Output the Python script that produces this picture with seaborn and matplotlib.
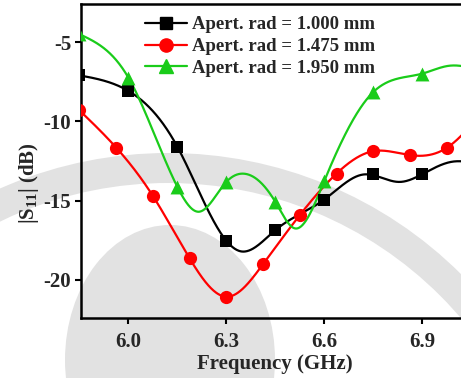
import numpy as np
import matplotlib
matplotlib.use("Agg")
import matplotlib.pyplot as plt
from matplotlib.lines import Line2D
from matplotlib.patches import Wedge, Ellipse
import seaborn as sns

# Reflection coefficient |S11| versus frequency for three aperture radii.
# Marked samples for each radius
freq_a = [5.85, 6.00, 6.15, 6.30, 6.45, 6.60, 6.75, 6.90]
s11_a = [-7.1, -8.08, -11.6, -17.53, -16.86, -14.93, -13.33, -13.33]

freq_b = [5.85, 5.9625, 6.075, 6.1875, 6.30, 6.4125, 6.525, 6.6375, 6.75, 6.8625, 6.975]
s11_b = [-9.3, -11.65, -14.7, -18.64, -21.06, -19.0, -15.91, -13.29, -11.88, -12.13, -11.67]

freq_c = [5.85, 6.00, 6.15, 6.30, 6.45, 6.60, 6.75, 6.90]
s11_c = [-4.5, -7.24, -14.13, -13.82, -15.08, -13.75, -8.15, -6.99]

# Full sweep used for the continuous traces
sweep_fa = [5.85, 6.00, 6.15, 6.30, 6.345, 6.45, 6.60, 6.72, 6.83, 6.90, 6.99, 7.10]
sweep_sa = [-7.1, -8.08, -11.6, -17.53, -18.2, -16.86, -14.93, -13.35, -13.82, -13.33, -12.55, -12.9]

sweep_fb = [5.85, 5.9625, 6.075, 6.1875, 6.30, 6.4125, 6.525, 6.6375, 6.75, 6.8625, 6.975, 7.0875]
sweep_sb = [-9.3, -11.65, -14.7, -18.64, -21.06, -19.0, -15.91, -13.29, -11.88, -12.13, -11.67, -9.3]

sweep_fc = [5.85, 6.00, 6.15, 6.216, 6.30, 6.354, 6.45, 6.51, 6.60, 6.75, 6.90, 6.98, 7.10]
sweep_sc = [-4.5, -7.24, -14.13, -15.7, -13.82, -13.3, -15.08, -16.75, -13.75, -8.15, -6.99, -6.5, -7.0]

labels = ["Apert. rad = 1.000 mm", "Apert. rad = 1.475 mm", "Apert. rad = 1.950 mm"]
colors = ["#000000", "#FF0000", "#1ACC1A"]
markers = ["s", "o", "^"]
msizes = [8.5, 9.5, 10]

xticks = [6.0, 6.3, 6.6, 6.9]
yticks = [-5, -10, -15, -20]


def natural_spline(x, y, n=800):
    """Natural cubic spline through the given points."""
    x = np.asarray(x, float)
    y = np.asarray(y, float)
    k = len(x)
    h = np.diff(x)
    A = np.zeros((k, k))
    r = np.zeros(k)
    A[0, 0] = 1.0
    A[-1, -1] = 1.0
    for i in range(1, k - 1):
        A[i, i - 1] = h[i - 1]
        A[i, i] = 2 * (h[i - 1] + h[i])
        A[i, i + 1] = h[i]
        r[i] = 6 * ((y[i + 1] - y[i]) / h[i] - (y[i] - y[i - 1]) / h[i - 1])
    M = np.linalg.solve(A, r)
    xs = np.linspace(x[0], x[-1], n)
    idx = np.clip(np.searchsorted(x, xs) - 1, 0, k - 2)
    x0, x1 = x[idx], x[idx + 1]
    y0, y1 = y[idx], y[idx + 1]
    m0, m1 = M[idx], M[idx + 1]
    hh = x1 - x0
    a = x1 - xs
    b = xs - x0
    ys = (m0 * a ** 3 + m1 * b ** 3) / (6 * hh) + (y0 / hh - m0 * hh / 6) * a + (y1 / hh - m1 * hh / 6) * b
    return xs, ys


sns.set_theme(style="white")
plt.rcParams["font.family"] = ["Liberation Serif", "DejaVu Serif"]
plt.rcParams["font.weight"] = "bold"
plt.rcParams["axes.unicode_minus"] = False
plt.rcParams["mathtext.fontset"] = "custom"
plt.rcParams["mathtext.rm"] = "Liberation Serif:bold"
plt.rcParams["mathtext.it"] = "Liberation Serif:italic:bold"
plt.rcParams["mathtext.bf"] = "Liberation Serif:bold"

W, H = 461, 378
fig = plt.figure(figsize=(W / 100, H / 100), dpi=100, facecolor="white")

# faint emblem printed behind the graph
bg = fig.add_axes([0, 0, 1, 1], zorder=-1)
bg.set_xlim(0, W)
bg.set_ylim(H, 0)
bg.axis("off")
emblem_grey = "#E2E2E2"
bg.add_patch(Wedge((168, 568), 415, 0, 360, width=30, fc=emblem_grey, ec="none"))
bg.add_patch(Ellipse((170, 360), 210, 270, fc=emblem_grey, ec="none"))

# plot frame runs slightly past the right edge of the canvas
ax = fig.add_axes([81 / W, 1 - 318 / H, 388 / W, (318 - 4) / H])
ax.set_facecolor("none")

sweeps = [(sweep_fa, sweep_sa), (sweep_fb, sweep_sb), (sweep_fc, sweep_sc)]
marks = [(freq_a, s11_a), (freq_b, s11_b), (freq_c, s11_c)]
handles = []
for (sx, sy), (fx, fy), lab, col, mk, ms in zip(sweeps, marks, labels, colors, markers, msizes):
    xs, ys = natural_spline(sx, sy)
    sns.lineplot(x=xs, y=ys, ax=ax, color=col, lw=1.6, sort=False, legend=False)
    sns.scatterplot(x=fx, y=fy, ax=ax, marker=mk, s=ms ** 2, color=col, edgecolor=col,
                    linewidth=0, zorder=4, legend=False)
    handles.append(Line2D([], [], color=col, lw=1.6, marker=mk, ms=ms, mec=col))

ax.set_xlim(5.855, 7.043)
ax.set_ylim(-22.4, -2.6)
ax.set_xticks(xticks)
ax.set_yticks(yticks)
ax.set_xticklabels([f"{t:.1f}" for t in xticks], fontsize=15, fontweight="bold")
ax.set_yticklabels([str(t) for t in yticks], fontsize=15, fontweight="bold")
ax.tick_params(axis="x", direction="out", length=4, width=1.5, color="black",
               bottom=True, top=False, pad=5.9)
ax.tick_params(axis="y", direction="out", length=4, width=1.5, color="black",
               left=True, right=False, pad=3)

for side in ["left", "bottom", "top"]:
    ax.spines[side].set_color("black")
    ax.spines[side].set_linewidth(1.8)
ax.spines["right"].set_visible(False)

ax.set_xlabel("Frequency (GHz)", fontsize=15, fontweight="bold", labelpad=1.7)
ax.set_ylabel("|S$_{11}$| (dB)", fontsize=15, fontweight="bold", labelpad=1.6)
ax.yaxis.label.set_y(0.43)

leg = ax.legend(handles, labels, loc="upper left", bbox_to_anchor=(0.1459, 0.985),
                frameon=False, prop={"family": "Liberation Serif", "weight": "bold", "size": 13.5},
                handlelength=2.24, handletextpad=0.27, labelspacing=0.25, borderaxespad=0.0,
                borderpad=0.4)

fig.savefig("out.png", dpi=100, facecolor="white")
